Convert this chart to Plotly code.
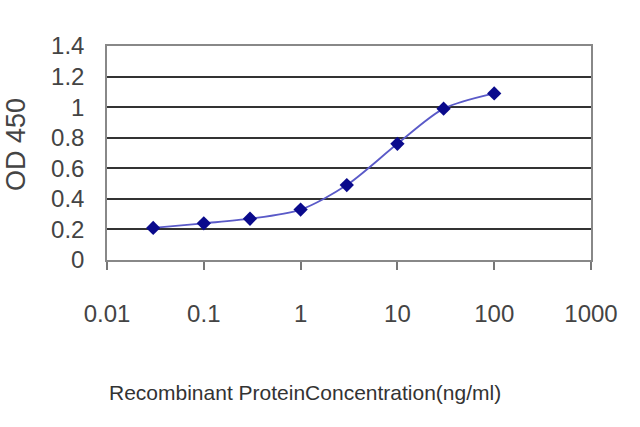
import plotly.graph_objects as go

concentration = [0.03, 0.1, 0.3, 1, 3, 10, 30, 100]
od450 = [0.21, 0.24, 0.27, 0.33, 0.49, 0.76, 0.99, 1.09]
x_ticks = [0.01, 0.1, 1, 10, 100, 1000]
x_tick_labels = ["0.01", "0.1", "1", "10", "100", "1000"]
y_ticks = [0, 0.2, 0.4, 0.6, 0.8, 1, 1.2, 1.4]
y_tick_labels = ["0", "0.2", "0.4", "0.6", "0.8", "1", "1.2", "1.4"]

fig = go.Figure()
fig.add_trace(go.Scatter(
    x=concentration, y=od450, mode="lines+markers",
    line=dict(color="#5a5ac8", width=1.8, shape="spline", smoothing=0.8),
    marker=dict(symbol="diamond", size=11, color="#0a0a8c"),
    showlegend=False,
))

font_family = "Liberation Sans, Arial, sans-serif"
fig.update_layout(
    width=640, height=427,
    margin=dict(l=107, r=49, t=46, b=167),
    paper_bgcolor="white", plot_bgcolor="white",
    font=dict(family=font_family, color="#333333"),
    xaxis=dict(
        type="log", range=[-2, 3],
        tickvals=x_ticks, ticktext=x_tick_labels,
        tickfont=dict(size=24, color="#444444"),
        ticks="outside", ticklen=8, tickwidth=1.5, tickcolor="#777777",
        ticklabelstandoff=23,
        showgrid=False, zeroline=False,
        showline=True, linecolor="#888888", linewidth=1.5, mirror=True,
    ),
    yaxis=dict(
        range=[0, 1.4],
        tickvals=y_ticks, ticktext=y_tick_labels,
        tickfont=dict(size=24, color="#444444"),
        ticks="", ticklabelstandoff=16,
        showgrid=True, gridcolor="#333333", gridwidth=2,
        zeroline=False,
        showline=True, linecolor="#888888", linewidth=1.5, mirror=True,
    ),
    annotations=[
        dict(text="Recombinant ProteinConcentration(ng/ml)", xref="paper", yref="paper",
             x=0.409, y=-0.617, showarrow=False, xanchor="center", yanchor="middle",
             font=dict(size=21, color="#333333")),
        dict(text="OD 450", xref="paper", yref="paper",
             x=(16 - 107) / 484, y=(260 - 145) / 214, showarrow=False, textangle=-90,
             xanchor="center", yanchor="middle",
             font=dict(size=27, color="#444444")),
    ],
)

fig.write_html("out.html", config={"displayModeBar": False},
               post_script="document.body.style.margin='0';")
